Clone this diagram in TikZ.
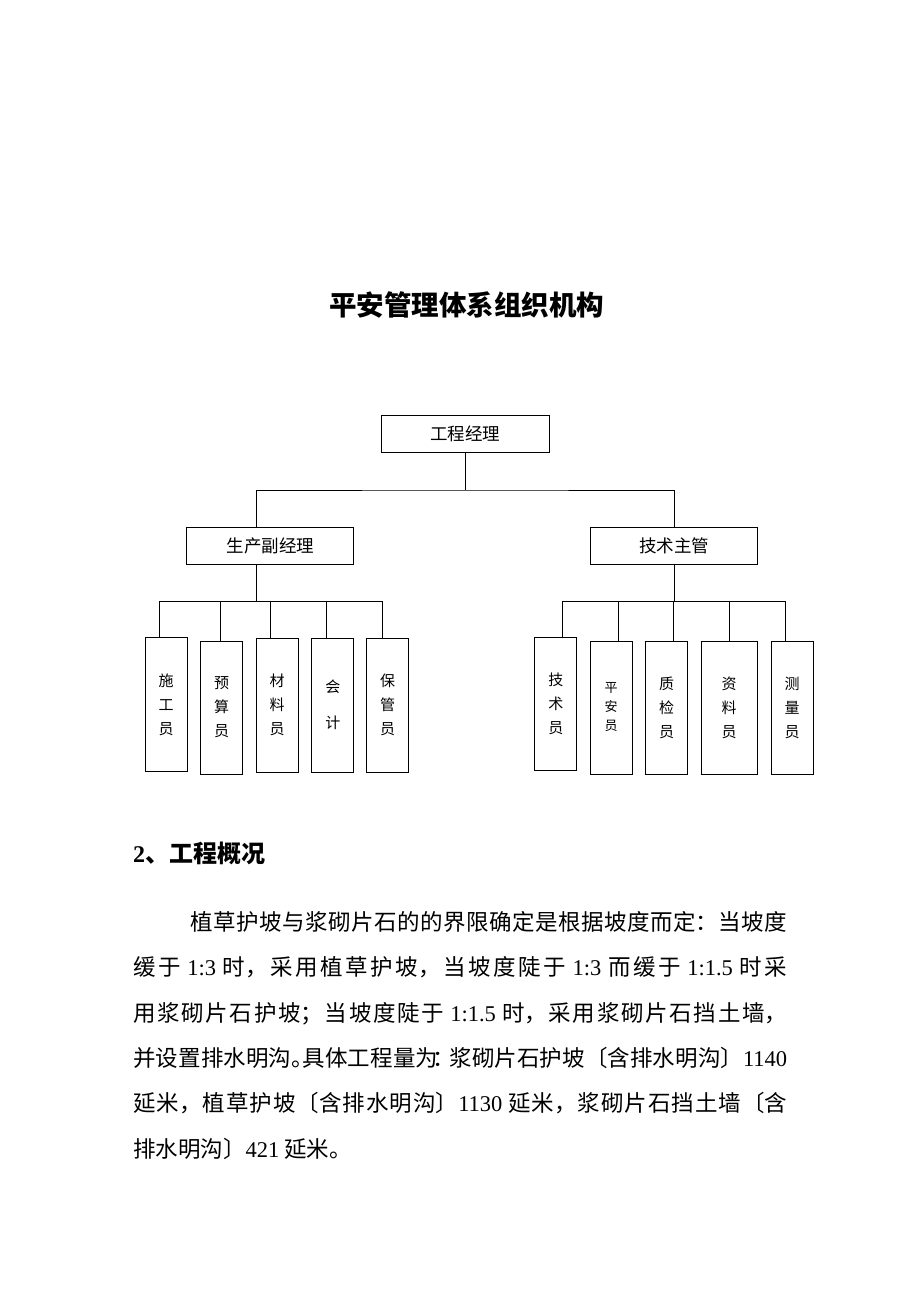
\documentclass[tikz,border=0pt]{standalone}
\usepackage{fontspec}
\setmainfont{Noto Sans CJK SC}
\newfontfamily\latn{Liberation Serif}
\XeTeXlinebreaklocale "zh"
\XeTeXlinebreakskip=0pt plus 4pt
\usetikzlibrary{calc}
\tikzset{
  box/.style={draw, line width=1pt, inner sep=0pt, minimum height=37pt,
    font=\fontsize{17.5}{20}\selectfont},
  leaf/.style={draw, line width=1pt, inner sep=0pt, minimum width=42pt,
    minimum height=133pt, align=center, font=\fontsize{15}{24}\selectfont},
  link/.style={line width=0.9pt}
}
% half-width punctuation
\newcommand{\hw}[2][l]{\makebox[0.5em][#1]{#2}}

\begin{document}
\begin{tikzpicture}[x=1pt, y=-1pt]
\useasboundingbox (0,0) rectangle (920,1302);

% --- Title ---
\node[font=\fontsize{27.5}{30}\selectfont\bfseries] (title) at (466.5,305) {平安管理体系组织机构};

% --- Chart Boxes ---
\node[box, minimum width=168pt] (top) at (465,433.5) {工程经理};
\node[box, minimum width=167pt] (lmid) at (270.3,545.5) {生产副经理};
\node[box, minimum width=167pt] (rmid) at (674.3,545.5) {技术主管};

\node[leaf, minimum height=134pt] (l1) at (166.2,704.9) {施\\工\\员};
\node[leaf] (l2) at (221.5,707.5) {预\\算\\员};
\node[leaf, minimum height=134pt] (l3) at (277.2,705) {材\\料\\员};
\node[leaf, minimum height=134pt] (l4) at (332.8,705) {会\\[12pt]计};
\node[leaf, minimum height=134pt] (l5) at (387.5,705) {保\\管\\员};

\node[leaf] (r1) at (555.8,704.3) {技\\术\\员};
\node[leaf, font=\fontsize{13}{19}\selectfont] (r2) at (611.2,707.5) {平\\安\\员};
\node[leaf] (r3) at (666.5,707.5) {质\\检\\员};
\node[leaf, minimum width=56.3pt] (r4) at (729.2,707.5) {资\\料\\员};
\node[leaf] (r5) at (792,707.5) {测\\量\\员};

% --- Connectors ---
\coordinate (topbus) at (465,490);
\draw[link] (top.south) -- (topbus);
\draw[link] ([xshift=-13.6pt]lmid.north) |- (topbus) -| (rmid.north);

\coordinate (lbus) at (256.7,601.7);
\draw[link] ([xshift=-13.6pt]lmid.south) -- (lbus);
\foreach \n/\dx in {l1/-7.2, l2/-0.8, l3/-6.5, l4/-6.8, l5/-5.5}
  \draw[link] ([xshift=\dx pt]\n.north) |- (lbus);

\coordinate (rbus) at (674.3,601.7);
\draw[link] (rmid.south) -- (rbus);
\foreach \n/\dx in {r1/6.9, r2/7.1, r3/6.5, r4/0.1, r5/-7}
  \draw[link] ([xshift=\dx pt]\n.north) |- (rbus);

% --- Text below ---
\node[anchor=west, inner sep=0pt, font=\fontsize{24}{26}\selectfont\bfseries] (head) at (133,853)
  {{\latn 2}、工程概况};

\node[anchor=base west, inner sep=0pt, text width=654pt, align=justify,
  font=\fontsize{22.5}{45.3}\selectfont] (body) at (133,930.5) {%
\hspace*{57pt}植草护坡与浆砌片石的的界限确定是根据坡度而定：当坡度\linebreak
缓于 {\latn 1:3} 时，采用植草护坡，当坡度陡于 {\latn 1:3} 而缓于 {\latn 1:1.5} 时采\linebreak
用浆砌片石护坡；当坡度陡于 {\latn 1:1.5} 时，采用浆砌片石挡土墙，\linebreak
并设置排水明沟\hw{。}具体工程量为\hw[c]{：}浆砌片石护坡〔含排水明沟〕{\latn 1140}\linebreak
延米，植草护坡〔含排水明沟〕{\latn 1130} 延米，浆砌片石挡土墙〔含\linebreak
排水明沟〕{\latn 421} 延米。};

\end{tikzpicture}
\end{document}
